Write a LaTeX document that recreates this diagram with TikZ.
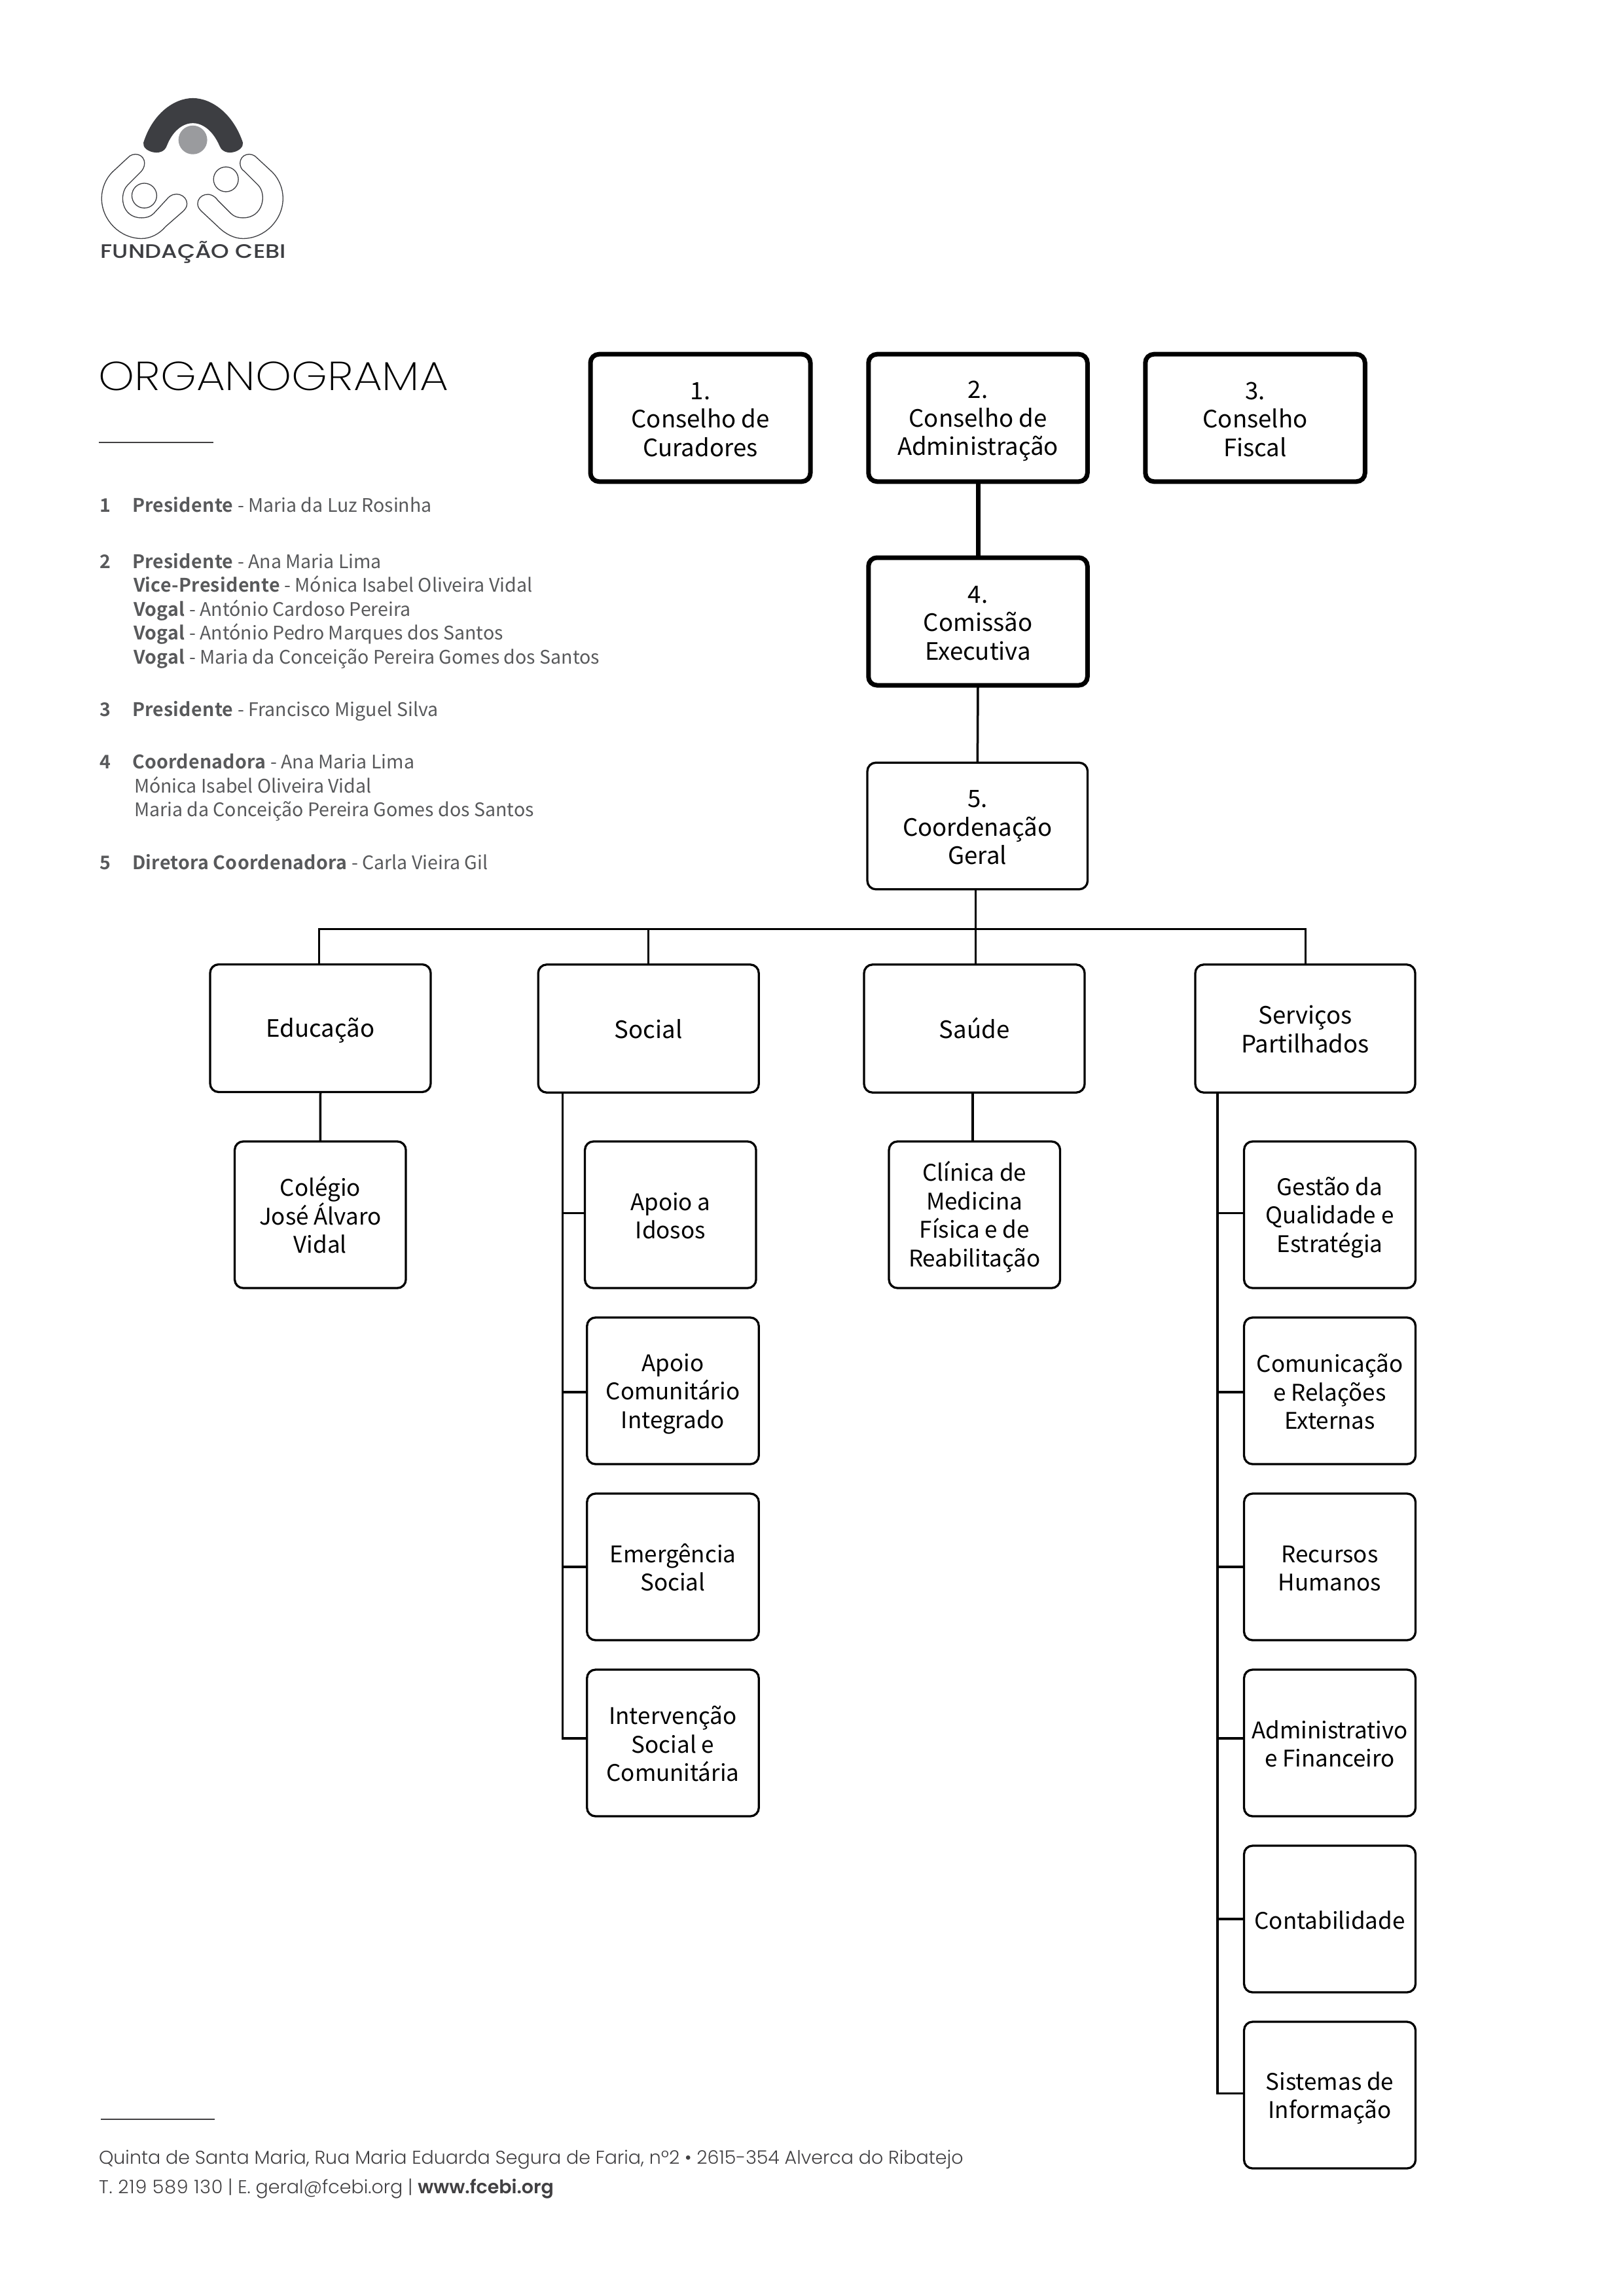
\documentclass[tikz,border=0pt]{standalone}
\usepackage{fontspec}
\setmainfont{Noto Sans CJK SC}[BoldFont={Noto Sans CJK SC Bold}, BoldFeatures={LetterSpace=1}]
\newfontfamily\titlefont{Poppins ExtraLight}[FakeStretch=1.13]
\newfontfamily\logofont{Poppins Medium}[FakeStretch=1.18]
\newfontfamily\footfont{Poppins Light}[BoldFont={Poppins SemiBold}]
\newfontfamily\footwide{Poppins Light}[LetterSpace=2.8]
\usetikzlibrary{calc, positioning}
\definecolor{logodark}{HTML}{3D3E42}
\definecolor{logogrey}{HTML}{9A9B9E}
\definecolor{leadgrey}{HTML}{58595B}
\definecolor{footgrey}{HTML}{414042}
\newcommand{\bx}[1]{\vrule width 0pt height 10.4pt depth 0pt #1\vrule width 0pt height 0pt depth 1.75pt}
\tikzset{
  boxthin/.style={draw=black, line width=0.033cm, rounded corners=0.13cm, align=center, inner sep=0pt, outer sep=0pt,
    font=\fontsize{10.4}{12.38}\selectfont},
  boxthick/.style={boxthin, line width=0.07cm},
  boxunit/.style={boxthin, minimum height=2.24cm, font=\fontsize{9.95}{12.38}\selectfont},
  linkthin/.style={draw=black, line width=0.035cm},
  linkthick/.style={draw=black, line width=0.07cm},
  leadtext/.style={anchor=base west, inner sep=0pt, outer sep=0pt, text=leadgrey, font=\fontsize{8.12}{10}\selectfont},
  foottext/.style={anchor=base west, inner sep=0pt, outer sep=0pt, text=footgrey, font=\footfont\fontsize{8.1}{10}\selectfont},
  logoline/.style={draw=logodark, line width=0.013cm},
  rulegrey/.style={draw=footgrey, line width=0.025cm}
}
\begin{document}
\begin{tikzpicture}
\useasboundingbox (0,0) rectangle (24.8,-35.08);

% logo, in its own units
\begin{scope}[shift={(1.2,-1.2)}, x=0.003333cm, y=-0.003333cm]
\fill[logodark] (298,295) .. controls (340,160) and (440,90) .. (525,90) .. controls (610,90) and (710,160) .. (755,295)
  .. controls (760,335) and (670,365) .. (648,310) .. controls (620,245) and (575,205) .. (525,205)
  .. controls (475,205) and (430,245) .. (405,310) .. controls (385,365) and (290,335) .. (298,295) -- cycle;
\fill[logogrey] (525,282) circle (66);
\draw[logoline] (106,550) .. controls (106,505) and (125,460) .. (155,430) -- (225,365)
  .. controls (250,335) and (303,345) .. (303,390) .. controls (303,405) and (295,420) .. (285,430) -- (225,490)
  .. controls (185,530) and (195,640) .. (290,640) .. controls (310,640) and (330,635) .. (345,620) -- (405,555)
  .. controls (440,510) and (498,535) .. (498,575) .. controls (498,590) and (490,600) .. (480,610) -- (400,680)
  .. controls (370,715) and (330,735) .. (290,735) .. controls (190,735) and (106,650) .. (106,550) -- cycle;
\draw[logoline] (302,538) circle (57);
\draw[logoline] (939,550) .. controls (939,505) and (920,460) .. (890,430) -- (820,365)
  .. controls (795,335) and (742,345) .. (742,390) .. controls (742,405) and (750,420) .. (760,425) -- (825,490)
  .. controls (865,530) and (850,640) .. (755,640) .. controls (735,640) and (715,635) .. (700,620) -- (640,560)
  .. controls (605,510) and (547,535) .. (547,575) .. controls (547,590) and (555,600) .. (565,610) -- (640,680)
  .. controls (675,715) and (715,735) .. (755,735) .. controls (855,735) and (939,650) .. (939,550) -- cycle;
\draw[logoline] (677,463) circle (57);
\end{scope}
\node[anchor=base west, inner sep=0pt, text=logodark, font=\logofont\fontsize{8.5}{10}\selectfont] (logoname) at (1.53,-3.95) {FUNDAÇÃO CEBI};

% title and list
\node[anchor=base west, inner sep=0pt, font=\titlefont\fontsize{17.6}{20}\selectfont] (title) at (1.50,-5.97) {ORGANOGRAMA};
\coordinate (titleruleA) at (1.514,-6.76);
\coordinate (titleruleB) at (3.26,-6.76);
\draw[rulegrey] (titleruleA) -- (titleruleB);

\node[leadtext] (num1) at (1.52,-7.82) {\textbf{1}};
\node[leadtext] (lead1a) at (2.02,-7.82) {\textbf{Presidente} - Maria da Luz Rosinha};
\node[leadtext] (num2) at (1.52,-8.68) {\textbf{2}};
\node[leadtext] (lead2a) at (2.02,-8.68) {\textbf{Presidente} - Ana Maria Lima};
\node[leadtext] (lead2b) at (2.04,-9.04) {\textbf{Vice-Presidente} - Mónica Isabel Oliveira Vidal};
\node[leadtext] (lead2c) at (2.04,-9.41) {\textbf{Vogal} - António Cardoso Pereira};
\node[leadtext] (lead2d) at (2.04,-9.77) {\textbf{Vogal} - António Pedro Marques dos Santos};
\node[leadtext] (lead2e) at (2.04,-10.14) {\textbf{Vogal} - Maria da Conceição Pereira Gomes dos Santos};
\node[leadtext] (num3) at (1.52,-10.94) {\textbf{3}};
\node[leadtext] (lead3a) at (2.02,-10.94) {\textbf{Presidente} - Francisco Miguel Silva};
\node[leadtext] (num4) at (1.52,-11.74) {\textbf{4}};
\node[leadtext] (lead4a) at (2.02,-11.74) {\textbf{Coordenadora} - Ana Maria Lima};
\node[leadtext] (lead4b) at (2.05,-12.11) {Mónica Isabel Oliveira Vidal};
\node[leadtext] (lead4c) at (2.05,-12.47) {Maria da Conceição Pereira Gomes dos Santos};
\node[leadtext] (num5) at (1.52,-13.28) {\textbf{5}};
\node[leadtext] (lead5a) at (2.02,-13.28) {\textbf{Diretora Coordenadora} - Carla Vieira Gil};

% top of the chart
\node[boxthick, minimum width=3.36cm, minimum height=1.945cm] (curadores) at (10.70,-6.385) {\bx{1.\\Conselho de\\Curadores}};
\node[boxthick, minimum width=3.345cm, minimum height=1.945cm] (admin) at (14.94,-6.385) {\bx{2.\\Conselho de\\Administração}};
\node[boxthick, minimum width=3.355cm, minimum height=1.945cm] (fiscal) at (19.175,-6.385) {\bx{3.\\Conselho\\Fiscal}};
\node[boxthick, minimum width=3.345cm, minimum height=1.95cm] (comissao) at (14.94,-9.495) {\bx{4.\\Comissão\\Executiva}};
\node[boxthin, minimum width=3.365cm, minimum height=1.935cm] (coordgeral) at (14.933,-12.62) {\bx{5.\\Coordenação\\Geral}};

% departments
\node[boxthin, minimum width=3.37cm, minimum height=1.95cm] (educacao) at (4.895,-15.71) {\bx{Educação}};
\node[boxthin, minimum width=3.37cm, minimum height=1.955cm] (social) at (9.907,-15.715) {\bx{Social}};
\node[boxthin, minimum width=3.37cm, minimum height=1.955cm] (saude) at (14.885,-15.715) {\bx{Saúde}};
\node[boxthin, minimum width=3.36cm, minimum height=1.955cm] (servicos) at (19.94,-15.715) {\bx{Serviços\\Partilhados}};

% units
\node[boxunit, minimum width=2.615cm] (colegio) at (4.893,-18.56) {\bx{Colégio\\José Álvaro\\Vidal}};
\node[boxunit, minimum width=2.615cm] (clinica) at (14.888,-18.56) {\bx{Clínica de\\Medicina\\Física e de\\Reabilitação}};
\node[boxunit, minimum width=2.615cm] (idosos) at (10.243,-18.56) {\bx{Apoio a\\Idosos}};
\node[boxunit, minimum width=2.625cm] (apoiocom) at (10.28,-21.25) {\bx{Apoio\\Comunitário\\Integrado}};
\node[boxunit, minimum width=2.625cm] (emergencia) at (10.28,-23.94) {\bx{Emergência\\Social}};
\node[boxunit, minimum width=2.625cm] (intervencao) at (10.28,-26.63) {\bx{Intervenção\\Social e\\Comunitária}};
\node[boxunit, minimum width=2.62cm] (gestao) at (20.315,-18.56) {\bx{Gestão da\\Qualidade e\\Estratégia}};
\node[boxunit, minimum width=2.62cm] (comunicacao) at (20.315,-21.25) {\bx{Comunicação\\e Relações\\Externas}};
\node[boxunit, minimum width=2.62cm] (recursos) at (20.315,-23.94) {\bx{Recursos\\Humanos}};
\node[boxunit, minimum width=2.62cm] (administrativo) at (20.315,-26.63) {\bx{Administrativo\\e Financeiro}};
\node[boxunit, minimum width=2.62cm] (contabilidade) at (20.315,-29.32) {\bx{Contabilidade}};
\node[boxunit, minimum width=2.62cm] (sistemas) at (20.315,-32.01) {\bx{Sistemas de\\Informação}};

% links
\draw[linkthick] (admin.south) -- (comissao.north);
\draw[linkthin] (comissao.south) -- (coordgeral.north);
\coordinate (railL) at (4.877,-14.195);
\coordinate (railR) at (19.946,-14.195);
\draw[linkthin] (saude.north -| 14.906,0) -- (coordgeral.south -| 14.906,0);
\draw[linkthin] (educacao.north -| railL) -- (railL) -- (railR) -- (servicos.north -| railR);
\draw[linkthin] (social.north) -- (social.north |- railL);
\draw[linkthin] (educacao.south) -- (colegio.north);
\draw[linkthin] (saude.south -| 14.86,0) -- (clinica.north -| 14.86,0);

\coordinate (socialrail) at (8.597,-26.56);
\draw[linkthin] (social.south -| socialrail) -- (socialrail) -- (intervencao.west |- socialrail);
\foreach \target/\y in {idosos/18.537, apoiocom/21.27, emergencia/23.94}
  \draw[linkthin] (socialrail |- 0,-\y) -- (\target.west |- 0,-\y);

\coordinate (servicosrail) at (18.60,-31.986);
\draw[linkthin] (servicos.south -| servicosrail) -- (servicosrail) -- (sistemas.west |- servicosrail);
\foreach \target/\y in {gestao/18.537, comunicacao/21.27, recursos/23.94, administrativo/26.56, contabilidade/29.318}
  \draw[linkthin] (servicosrail |- 0,-\y) -- (\target.west |- 0,-\y);

% footer
\coordinate (footruleA) at (1.54,-32.38);
\coordinate (footruleB) at (3.28,-32.38);
\draw[rulegrey] (footruleA) -- (footruleB);
\node[foottext] (foot1) at (1.51,-33.06) {Quinta de Santa Maria, Rua Maria Eduarda Segura de Faria, nº2 • 2615-354 Alverca do Ribatejo};
\node[foottext] (foot2) at (1.51,-33.51) {{\footwide T. 219 589 130} | E. geral@fcebi.org | \textbf{www.fcebi.org}};
\end{tikzpicture}
\end{document}
